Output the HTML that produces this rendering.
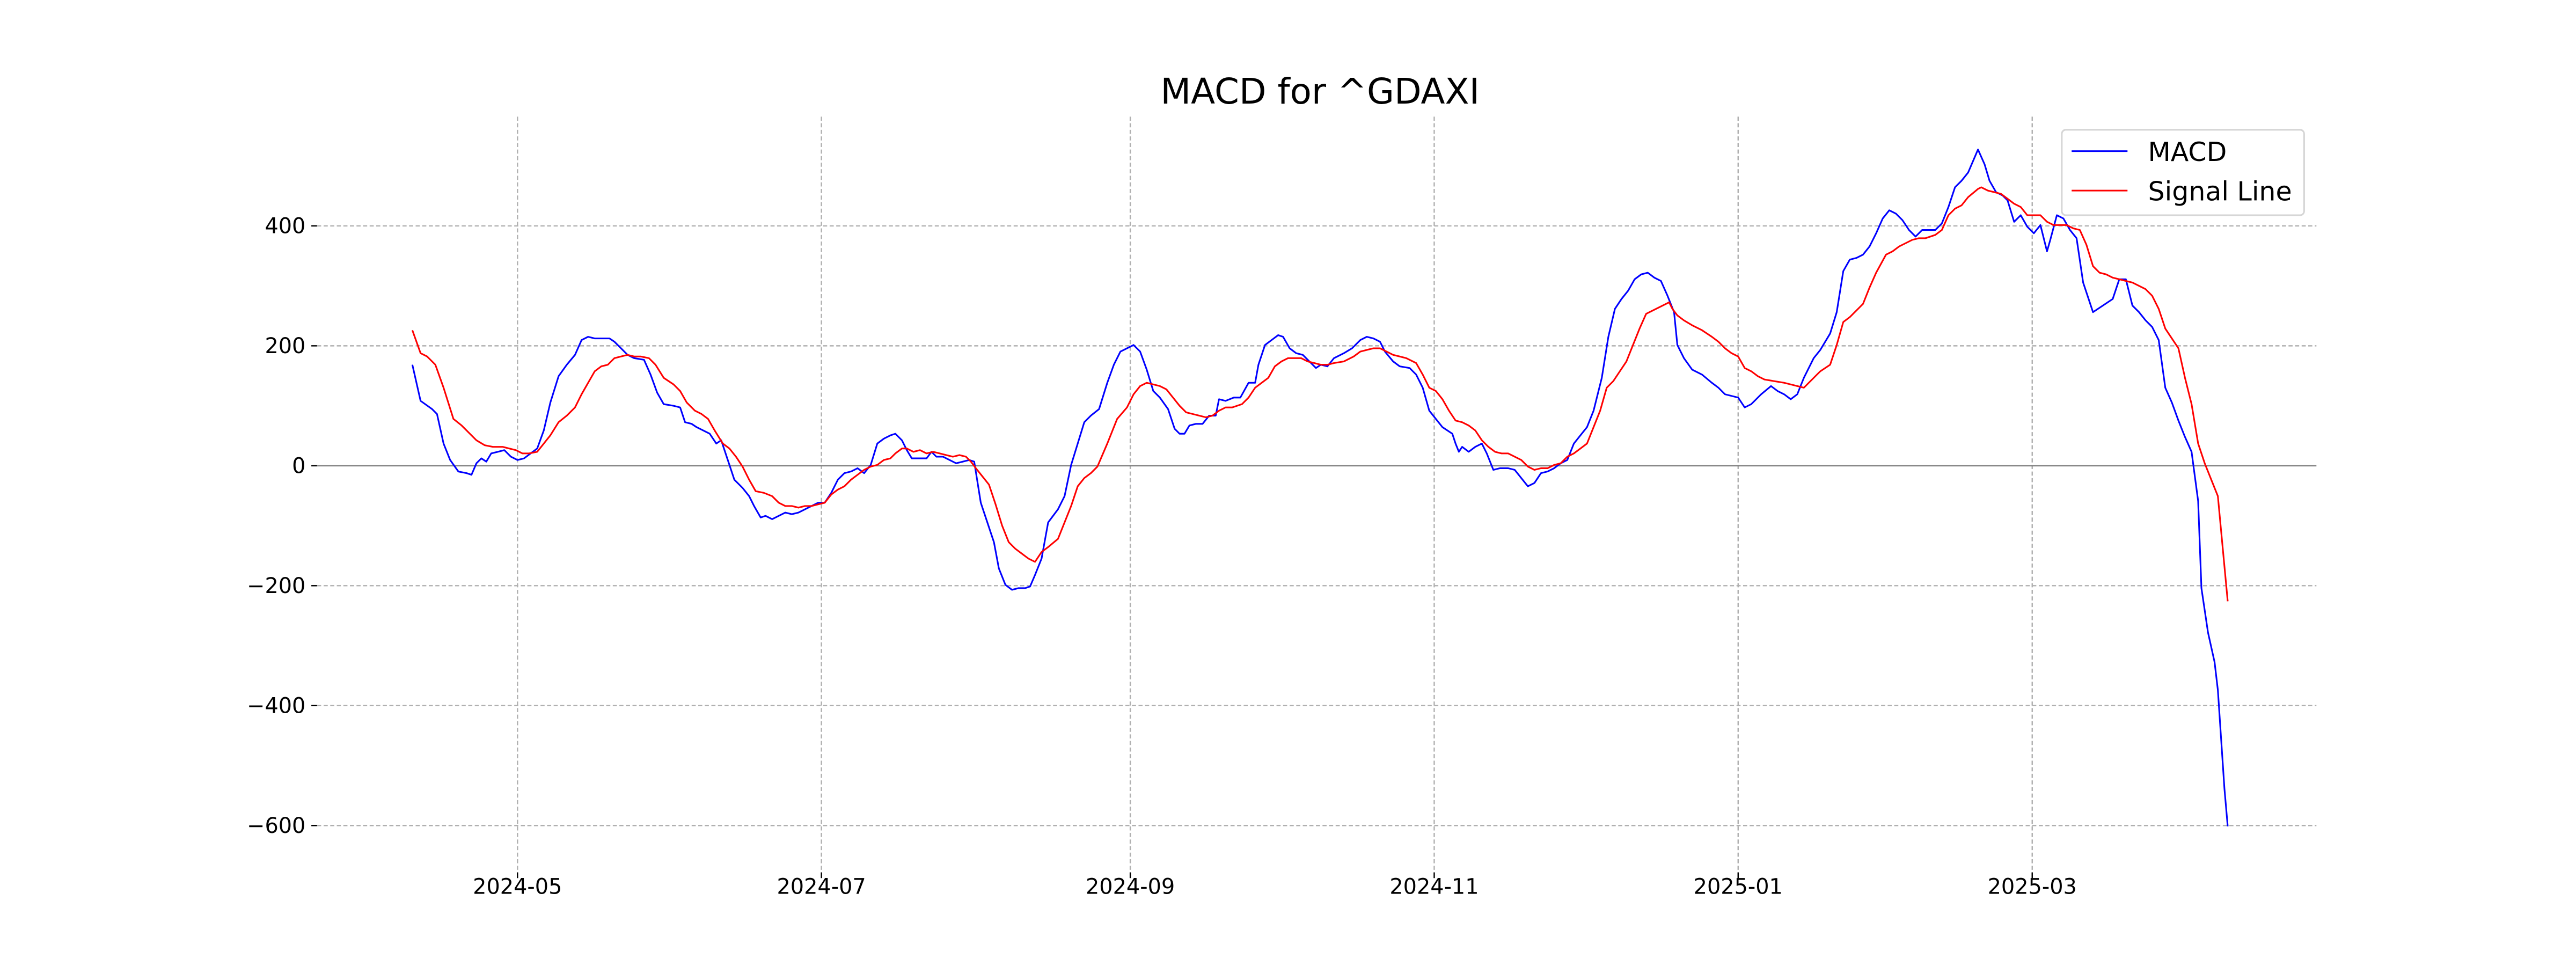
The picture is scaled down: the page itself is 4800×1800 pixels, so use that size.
<!DOCTYPE html>
<html><head><meta charset="utf-8"><style>html,body{margin:0;padding:0;background:#fff}svg{display:block}</style></head>
<body>
<svg width="4800" height="1800" viewBox="0 0 1568 588" xmlns="http://www.w3.org/2000/svg" font-family="'DejaVu Sans','Liberation Sans',sans-serif">
<rect width="1568" height="588" fill="#fff"/>
<g stroke="#b0b0b0" stroke-width="0.8" stroke-dasharray="2.5,1.5" fill="none">
<line x1="193" y1="137.5" x2="1410" y2="137.5"/>
<line x1="193" y1="210.5" x2="1410" y2="210.5"/>
<line x1="193" y1="356.5" x2="1410" y2="356.5"/>
<line x1="193" y1="429.5" x2="1410" y2="429.5"/>
<line x1="193" y1="502.5" x2="1410" y2="502.5"/>
<line x1="315" y1="71" x2="315" y2="531"/>
<line x1="500" y1="71" x2="500" y2="531"/>
<line x1="688" y1="71" x2="688" y2="531"/>
<line x1="873" y1="71" x2="873" y2="531"/>
<line x1="1058" y1="71" x2="1058" y2="531"/>
<line x1="1237" y1="71" x2="1237" y2="531"/>
</g>
<line x1="193" y1="283.5" x2="1410" y2="283.5" stroke="#808080" stroke-width="0.8"/>
<g stroke="#000" stroke-width="0.8">
<line x1="189.5" y1="137.5" x2="193" y2="137.5"/><line x1="189.5" y1="210.5" x2="193" y2="210.5"/><line x1="189.5" y1="283.5" x2="193" y2="283.5"/><line x1="189.5" y1="356.5" x2="193" y2="356.5"/><line x1="189.5" y1="429.5" x2="193" y2="429.5"/><line x1="189.5" y1="502.5" x2="193" y2="502.5"/>
<line x1="315" y1="531" x2="315" y2="534.5"/><line x1="500" y1="531" x2="500" y2="534.5"/><line x1="688" y1="531" x2="688" y2="534.5"/><line x1="873" y1="531" x2="873" y2="534.5"/><line x1="1058" y1="531" x2="1058" y2="534.5"/><line x1="1237" y1="531" x2="1237" y2="534.5"/>
</g>
<g font-size="13" fill="#000" text-anchor="end">
<text x="186" y="142">400</text><text x="186" y="215">200</text><text x="186" y="288">0</text><text x="186" y="361">−200</text><text x="186" y="434">−400</text><text x="186" y="507">−600</text>
</g>
<g font-size="13" fill="#000" text-anchor="middle">
<text x="315" y="544">2024-05</text><text x="500" y="544">2024-07</text><text x="688" y="544">2024-09</text><text x="873" y="544">2024-11</text><text x="1058" y="544">2025-01</text><text x="1237" y="544">2025-03</text>
</g>
<text x="803.5" y="63" font-size="21.5" text-anchor="middle" fill="#000">MACD for ^GDAXI</text>
<polyline fill="none" stroke="#0000ff" stroke-width="1" stroke-linejoin="round" points="251,222 256,244 263,249 266,252 270,270 274,280 279,287 284,288 287,289 290,282 293,279 296,281 299,276 303,275 307,274 311,278 315,280 319,279 323,276 327,273 331,262 335,245 340,229 345,222 350,216 354,207 358,205 362,206 366,206 371,206 374,208 378,212 382,216 386,218 392,219 396,228 400,239 404,246 410,247 414,248 417,257 421,258 424,260 428,262 432,264 436,270 439,268 443,280 447,292 452,297 456,302 459,308 463,315 466,314 470,316 474,314 478,312 482,313 486,312 490,310 494,308 498,306 502,306 506,300 510,292 514,288 518,287 522,285 526,288 530,283 534,270 538,267 542,265 545,264 549,268 552,274 555,279 560,279 564,279 567,275 570,278 574,278 578,280 582,282 586,281 590,280 593,281 597,306 601,318 605,330 608,346 612,356 616,359 620,358 624,358 627,357 630,350 634,340 638,318 644,310 648,302 652,283 656,270 660,257 664,253 669,249 674,233 678,222 682,214 686,212 690,210 694,214 698,225 702,238 706,242 711,249 715,261 718,264 721,264 724,259 728,258 732,258 736,253 740,253 742,243 746,244 751,242 755,242 760,233 764,233 766,222 770,210 774,207 778,204 781,205 785,212 789,215 793,216 797,220 801,224 804,222 808,223 812,218 818,215 823,212 828,207 832,205 836,206 840,208 843,214 848,220 852,223 858,224 862,228 866,236 870,250 874,255 878,260 884,264 886,270 888,275 890,272 894,275 898,272 902,270 905,276 909,286 913,285 918,285 922,286 926,291 930,296 934,294 938,288 942,287 946,285 950,282 954,280 958,270 962,265 966,260 970,250 975,230 979,205 983,188 987,182 991,177 995,170 999,167 1003,166 1007,169 1011,171 1015,180 1019,190 1021,210 1025,218 1030,225 1036,228 1042,233 1046,236 1050,240 1058,242 1062,248 1066,246 1072,240 1078,235 1082,238 1086,240 1090,243 1094,240 1098,230 1104,218 1108,213 1114,203 1118,190 1122,165 1126,158 1130,157 1134,155 1138,150 1142,142 1146,133 1150,128 1154,130 1158,134 1162,140 1166,144 1170,140 1174,140 1178,140 1182,136 1186,126 1190,114 1194,110 1198,105 1204,91 1208,100 1211,110 1215,117 1219,119 1222,122 1226,135 1230,131 1234,138 1238,142 1242,137 1246,153 1248,146 1252,131 1256,133 1260,140 1264,145 1268,172 1274,190 1280,186 1286,182 1290,170 1294,170 1298,186 1302,190 1306,195 1310,199 1314,207 1318,236 1322,245 1326,256 1330,266 1334,275 1338,305 1340,358 1344,385 1348,403 1350,420 1352,450 1354,480 1356,503"/>
<polyline fill="none" stroke="#ff0000" stroke-width="1" stroke-linejoin="round" points="251,201 256,215 260,217 265,222 270,236 276,255 281,259 286,264 290,268 295,271 300,272 306,272 310,273 314,274 318,276 322,276 327,275 331,270 335,265 340,257 345,253 350,248 354,240 358,233 362,226 366,223 370,222 374,218 378,217 382,216 386,217 390,217 395,218 399,222 404,230 410,234 414,238 418,245 423,250 427,252 431,255 435,262 440,270 444,273 448,278 452,284 456,292 460,299 465,300 470,302 474,306 478,308 482,308 486,309 490,308 494,308 498,307 502,306 506,301 510,298 514,296 518,292 522,289 526,286 530,284 534,283 538,280 542,279 545,276 549,273 552,273 556,275 560,274 564,276 568,275 572,276 576,277 580,278 584,277 588,278 591,281 594,285 598,290 602,295 606,307 610,320 614,330 618,334 622,337 626,340 630,342 634,336 638,333 644,328 648,318 652,308 656,296 660,291 664,288 668,284 674,270 680,255 686,248 690,240 694,235 698,233 702,234 706,235 710,237 714,242 718,247 722,251 726,252 730,253 734,254 738,253 742,250 746,248 750,248 756,246 760,242 764,236 768,233 772,230 776,223 780,220 784,218 788,218 792,218 796,220 800,221 804,222 808,222 812,221 818,220 824,217 828,214 832,213 836,212 840,212 844,214 848,216 852,217 856,218 862,221 866,228 870,236 874,238 878,243 882,250 886,256 890,257 894,259 898,262 902,268 906,272 910,275 914,276 918,276 922,278 926,280 930,284 934,286 938,285 942,285 946,283 950,282 954,278 958,276 962,273 966,270 970,260 974,250 978,236 982,232 986,226 990,220 994,210 998,200 1002,191 1006,189 1010,187 1014,185 1016,184 1018,188 1021,192 1025,195 1030,198 1036,201 1042,205 1046,208 1050,212 1054,215 1058,217 1062,224 1066,226 1070,229 1074,231 1080,232 1086,233 1090,234 1094,235 1098,236 1104,230 1108,226 1114,222 1118,210 1122,196 1126,193 1134,185 1138,175 1142,166 1148,155 1152,153 1156,150 1160,148 1164,146 1168,145 1172,145 1178,143 1182,140 1186,131 1190,127 1194,125 1198,120 1204,115 1206,114 1210,116 1214,117 1218,118 1222,121 1226,124 1230,126 1234,131 1238,131 1242,131 1246,135 1250,137 1254,137 1258,137 1262,139 1266,140 1270,149 1274,162 1278,166 1282,167 1286,169 1290,170 1294,171 1298,172 1302,174 1306,176 1310,180 1314,188 1318,200 1322,206 1326,212 1330,230 1334,246 1338,270 1342,282 1346,292 1350,302 1356,366"/>
<rect x="1255" y="79" width="147.5" height="52" rx="2.5" fill="#fff" fill-opacity="0.8" stroke="#d5d5d5" stroke-width="1"/>
<line x1="1261" y1="92" x2="1295" y2="92" stroke="#0000ff" stroke-width="1"/>
<line x1="1261" y1="116" x2="1295" y2="116" stroke="#ff0000" stroke-width="1"/>
<text x="1307.5" y="98" font-size="16" fill="#000">MACD</text>
<text x="1307.5" y="122" font-size="16" fill="#000">Signal Line</text>
</svg>
</body></html>
